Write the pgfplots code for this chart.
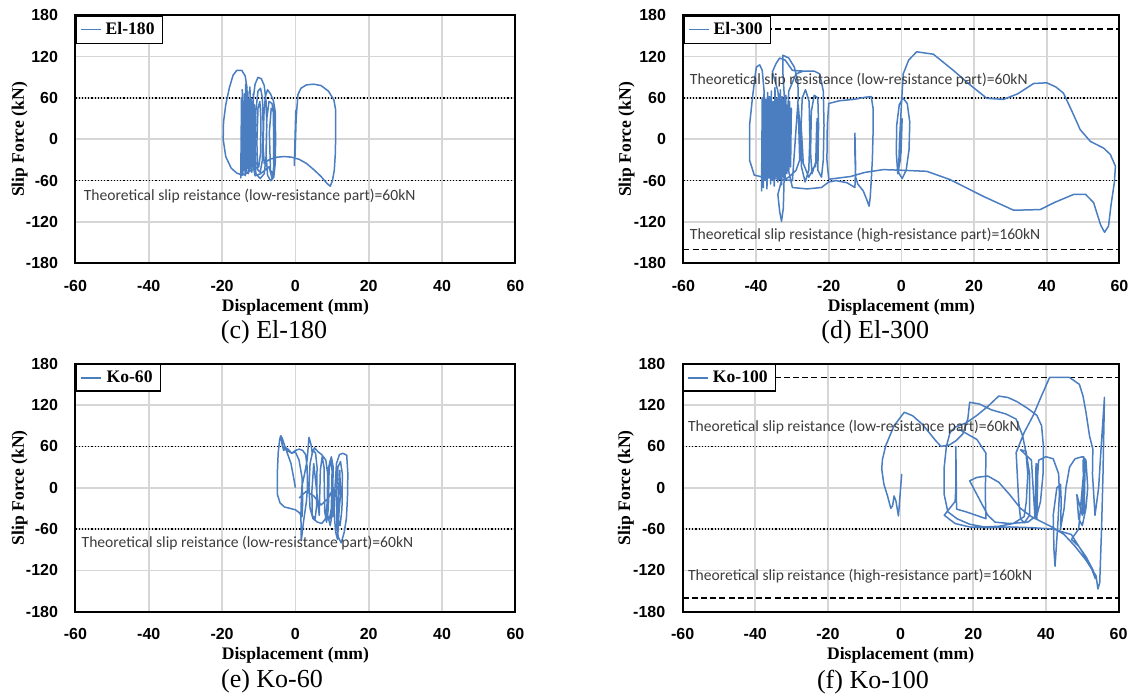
\documentclass[border=0pt]{standalone}
\usepackage{fontspec}
\setmainfont{Liberation Serif}
\newfontfamily\ticksf{Liberation Sans}
\newfontfamily\calib{Carlito}
\usepackage{pgfplots}
\pgfplotsset{compat=1.18}

\definecolor{curve}{RGB}{74,126,193}
\definecolor{gridc}{RGB}{214,214,214}
\definecolor{annc}{RGB}{60,60,60}

\newcommand{\annfont}{\calib\fontsize{7.8}{9}\selectfont}

\pgfplotsset{
  slip/.style={
    scale only axis, width=220pt, height=124pt,
    xmin=-60, xmax=60, ymin=-180, ymax=180,
    xtick={-60,-40,-20,0,20,40,60},
    ytick={-180,-120,-60,0,60,120,180},
    xticklabels={-60,-40,-20,0,20,40,60},
    yticklabels={-180,-120,-60,0,60,120,180},
    grid=major,
    major grid style={gridc, line width=0.8pt},
    major tick length=0pt,
    axis line style={line width=1pt},
    tick label style={font=\ticksf\fontsize{8}{9}\selectfont\bfseries},
    xticklabel style={anchor=center, yshift=-11.3pt},
    yticklabel style={anchor=east, inner sep=0pt, xshift=-8.5pt},
    xlabel={Displacement (mm)},
    ylabel={Slip Force (kN)},
    label style={font=\fontsize{8.8}{10}\selectfont\bfseries},
    xlabel style={at={(axis description cs:0.5,-0.176)}, anchor=center},
    ylabel style={at={(axis description cs:-0.127,0.5)}, anchor=center},
    legend style={at={(0,1)}, anchor=north west, draw=black, line width=0.8pt,
      fill=white, font=\fontsize{8.8}{10}\selectfont\bfseries,
      inner xsep=2pt, inner ysep=1pt},
    legend image code/.code={\draw[#1] (0pt,0pt) -- (10pt,0pt);},
  },
  low/.style={black, densely dotted, line width=0.6pt, forget plot},
  high/.style={black, dash pattern=on 3pt off 1.6pt, line width=0.8pt, forget plot},
  hyst/.style={curve, line width=0.75pt, line join=round},
}

\begin{document}
\begin{tikzpicture}
\useasboundingbox (0,0) rectangle (567pt,348.5pt);

% (c) El-180
\begin{axis}[slip, at={(37.7pt,216.85pt)}, anchor=south west]
\addplot[low] coordinates {(-60,60) (60,60)};
\addplot[low] coordinates {(-60,-60) (60,-60)};
\addplot[hyst] coordinates {
(0,0) (0.2,35) (-0.2,-20) (0.1,42) (-0.3,-38) (0.2,30) (-0.1,-25) (0.1,20)
(0.4,45) (0.7,65) (1.5,74) (3,79) (5,80) (7,78) (9,70) (10.5,57) (11,42)
(11,15) (10.9,-20) (10.6,-45) (10.1,-60) (9.5,-68) (8.6,-64) (7,-54) (5,-44)
(3,-35) (1,-29) (-1,-26) (-3,-25) (-5,-26) (-7,-29) (-8.5,-35) (-8.8,-10)
(-8.6,35) (-8.2,62) (-7.6,72) (-6.8,66) (-6,56) (-5.5,40) (-5.4,0) (-5.5,-35)
(-5.9,-55) (-6.8,-60) (-7.6,-52) (-8,-20) (-7.8,30) (-7.2,55) (-6.4,52)
(-5.8,35) (-5.7,-25) (-6.1,-50) (-6.8,-45) (-7.1,10) (-6.6,45) (-6,40)
(-5.9,-40) (-6.3,-58) (-7.2,-40) (-9.5,-50) (-11,-53) (-11.8,-30) (-12,10)
(-11.7,50) (-11,80) (-10.2,90) (-9.3,88) (-8.5,78) (-8,55) (-7.8,20) (-8,-25)
(-8.5,-50) (-9.6,-57) (-10.8,-50) (-11,-10) (-10.8,40) (-10.2,70) (-9.5,74)
(-9,60) (-8.8,20) (-9,-30) (-9.6,-48) (-10.3,-44) (-10.5,-5) (-10.2,45)
(-9.7,55) (-9.4,30) (-9.5,-20) (-10,-40) (-12,-45) (-13.5,-50) (-14.5,-52)
(-16,-49) (-17.5,-42) (-19,-25) (-19.7,0) (-19.6,25) (-19,50) (-18,75)
(-17,93) (-16,100) (-14.6,100) (-13.7,92) (-13.2,75) (-13.4,30) (-14.9,-56)
(-14.7,60) (-14.3,-50) (-14.5,72) (-14,-45) (-14.2,55) (-13.7,-53) (-13.9,66)
(-13.4,-48) (-13.6,80) (-13.1,-42) (-13.3,62) (-12.8,-50) (-13,70) (-12.5,-45)
(-12.7,58) (-12.2,-42) (-12.4,76) (-11.9,-48) (-12.1,60) (-11.6,-40) (-11.8,52)
(-11.3,-45) (-11.5,66) (-11,-38) (-11.2,50) (-14.6,-40) (-14.4,40) (-14.1,-30)
(-13.8,45) (-13.5,-35) (-13.2,40) (-12.9,-30) (-12.6,42) (-12.3,-33) (-12,38)
(-11.7,-30)
};
\addlegendentry{El-180}
\node[anchor=west, font=\annfont, text=annc, inner sep=0pt] at (axis cs:-57.8,-83)
  {Theoretical slip reistance (low-resistance part)=60kN};
\end{axis}

% (d) El-300
\begin{axis}[slip, width=218pt, ylabel style={at={(axis description cs:-0.130,0.5)}},
  at={(341.7pt,216.85pt)}, anchor=south west]
\addplot[low] coordinates {(-60,60) (60,60)};
\addplot[low] coordinates {(-60,-60) (60,-60)};
\addplot[high] coordinates {(-60,160) (60,160)};
\addplot[high] coordinates {(-60,-160) (60,-160)};
\addplot[hyst] coordinates {
(0,0) (0.2,30) (-0.1,-20) (0.15,25) (-0.1,-15) (0,10) (-0.3,-30) (-1,-50)
(-1.4,-20) (-1.3,20) (-0.6,50) (0.4,60) (1.6,52) (2.3,25) (2.1,-15) (1.3,-45)
(0.2,-57) (-0.8,-48) (-0.5,0) (0,50) (0.5,95) (2,115) (4.2,127) (8.8,123.5)
(14.3,100) (18.9,79) (23.5,59.5) (28.1,58) (32,66) (36.4,81) (40,82) (42.5,76)
(44.6,67) (47,40) (49.2,14) (52,-3) (55.7,-13) (57.5,-22) (58.9,-39) (58.6,-63)
(57.7,-95) (57,-126) (55.9,-135) (54.8,-124) (52.9,-92) (50.7,-80) (47.4,-80)
(42,-92) (38.2,-102) (30.9,-103) (22.6,-83) (13.4,-58.5) (7,-46.5) (0.5,-45)
(-5,-44) (-10,-48) (-14,-54) (-20,-58) (-20.5,-30) (-20.4,20) (-20,52)
(-17,56) (-13,58) (-10,61) (-8.3,62) (-7.8,45) (-7.8,10) (-8,-30) (-8.3,-60)
(-8.6,-85) (-8.9,-97) (-9.5,-88) (-10.5,-75) (-12,-65) (-12.6,-55) (-12.8,-20)
(-12.8,9) (-12.6,-40) (-12.8,-70) (-15,-63) (-18,-60) (-20,-62) (-22,-70)
(-26,-72) (-30,-70) (-31.3,-40) (-31.5,20) (-31,70) (-29,95) (-27,99)
(-24,99) (-22.5,95) (-21.5,70) (-21.3,20) (-21.5,-30) (-22,-55) (-23,-45)
(-22.8,20) (-23,60) (-24,64) (-24.8,40) (-25,-20) (-24.6,-50) (-23.4,-30)
(-23.2,30) (-23.6,-40) (-23.3,25) (-23.5,-35) (-25.5,-55) (-27,-35) (-27.6,20)
(-27.3,60) (-26.4,72) (-25.4,55) (-25.2,0) (-25.5,-45) (-26.5,-62) (-27.5,-40)
(-27.8,10) (-28.4,50) (-28,-30) (-29,-45) (-31,-55) (-33,-60) (-34,-80)
(-33.5,-105) (-33,-119) (-32.5,-100) (-32.3,-60) (-32.4,0) (-32.2,60)
(-32.6,95) (-32.6,122) (-31,118) (-29.5,105) (-28.5,85) (-28.4,60) (-30,-60)
(-38,-55) (-40.5,-52) (-41.8,-30) (-41.8,20) (-41,60) (-40.2,95) (-39.9,105)
(-39,108) (-38.3,100) (-37.8,70) (-38.5,-75) (-38.3,60) (-38,-70) (-37.8,65)
(-37.5,-60) (-37.3,58) (-37,-72) (-36.8,68) (-36.5,-55) (-36.3,62) (-36,-65)
(-35.8,70) (-35.5,-60) (-35.3,55) (-35,-68) (-34.8,75) (-34.5,-55) (-34.3,60)
(-34,-62) (-33.8,66) (-33.5,-58) (-33.3,72) (-33,-66) (-32.8,62) (-32.5,-55)
(-32.3,58) (-32,-60) (-31.8,64) (-31.5,-50) (-31.3,50) (-31,-45) (-30.8,55)
(-30.5,-40) (-30.3,45) (-38.2,40) (-37.9,-40) (-37.4,45) (-37.1,-35)
(-36.6,38) (-36.1,-42) (-35.6,40) (-35.1,-38) (-34.6,42) (-34.1,-40)
(-33.6,45) (-33.1,-36) (-32.6,40) (-32.1,-38) (-34,70) (-35.5,98) (-34.5,110)
(-33.5,118) (-32,115) (-30,100) (-27,99)
};
\addlegendentry{El-300}
\node[anchor=west, font=\annfont, text=annc, inner sep=0pt] at (axis cs:-58.3,86)
  {Theoretical slip resistance (low-resistance part)=60kN};
\node[anchor=west, font=\annfont, text=annc, inner sep=0pt] at (axis cs:-58.3,-139)
  {Theoretical slip resistance (high-resistance part)=160kN};
\end{axis}

% (e) Ko-60
\begin{axis}[slip, at={(37.7pt,42.65pt)}, anchor=south west,
  legend image code/.code={\draw[#1, line width=1.2pt] (0pt,0pt) -- (10pt,0pt);}]
\addplot[low] coordinates {(-60,60) (60,60)};
\addplot[low] coordinates {(-60,-60) (60,-60)};
\addplot[hyst] coordinates {
(0,0) (-0.5,15) (-1.2,35) (-2.2,50) (-3,62) (-3.6,72) (-4,75.5) (-4.3,70)
(-4.7,50) (-4.9,25) (-4.9,-10) (-4.2,-22) (-3,-28) (-1.5,-30) (0,-32) (1,-36)
(1.8,-42) (2,-20) (1.8,15) (1,40) (0,52) (-1,50) (-2,56) (-2.6,58) (-3.2,54)
(-3.6,62) (-4,75.5) (-3.5,60) (-2.5,55) (-1,50) (0,54) (1,56) (2,54) (2.8,48)
(3.2,30) (3.3,0) (3,-20) (2.2,-50) (1.6,-77) (1.5,-40) (1.7,0) (2.5,20)
(3.2,40) (3.7,73) (4.3,62) (4.6,50) (5.2,58) (6.2,52) (7.2,48) (8.3,40)
(8.8,20) (8.7,-20) (8.2,-45) (7.2,-52) (6,-50) (4.8,-45) (4,-30) (3.7,0)
(4,35) (4.8,55) (5.5,50) (5.9,30) (5.8,-25) (5.4,-45) (4.6,-40) (4.5,-5)
(5,35) (5.3,20) (6.5,-40) (6.8,25) (7.3,45) (7.8,30) (8,-35) (8.5,-50)
(9,-30) (9.2,30) (9.8,45) (10.3,30) (10.1,-35) (9.5,-55) (8.8,-40) (8.9,25)
(9.5,40) (10,25) (9.8,-30) (9.3,-45) (10.5,-40) (10.8,0) (11.2,35) (12,48)
(13,50) (14,47) (14.3,20) (14.2,-15) (13.9,-45) (13.3,-65) (12.5,-80)
(11.7,-72) (11.3,-55) (11.2,-10) (11.6,30) (12.3,38) (12.8,20) (12.7,-30)
(12.2,-55) (11.6,-45) (11.8,0) (12.1,25) (12.3,-10) (11.9,-35) (11.5,-75)
(11,-65) (10.6,-40) (10.4,0) (9,-15) (7,-25) (5,-12) (3,-5) (1,-15)
};
\addlegendentry{Ko-60}
\node[anchor=west, font=\annfont, text=annc, inner sep=0pt] at (axis cs:-58.4,-81)
  {Theoretical slip reistance (low-resistance part)=60kN};
\end{axis}

% (f) Ko-100
\begin{axis}[slip, width=218pt, ylabel style={at={(axis description cs:-0.130,0.5)}},
  at={(341.3pt,42.65pt)}, anchor=south west]
\addplot[low] coordinates {(-60,60) (60,60)};
\addplot[low] coordinates {(-60,-60) (60,-60)};
\addplot[high] coordinates {(-60,160) (60,160)};
\addplot[high] coordinates {(-60,-160) (60,-160)};
\addplot[hyst] coordinates {
(0.3,20) (-0.6,-41) (-1.3,-19) (-1.8,-12) (-2.2,-26) (-2.7,-30) (-3.6,-12)
(-4.6,5) (-5.2,27) (-5,41) (-4.1,61) (-1.8,90) (1,109.5) (3.3,104.5) (6,92)
(9.7,68) (11.1,60) (13.4,62) (15.2,68) (17.1,78) (18.5,100) (19,124)
(21.7,121.5) (25,113) (29,107) (31.8,99.6) (33.6,75) (34.5,51) (35,20)
(34.6,-20) (34,-42) (31,-52) (27,-56) (23,-57) (19,-53) (15.5,-45) (13,-35)
(12,-10) (12,30) (12.6,60) (13.6,80) (15,88) (18,94) (21,105) (24,118)
(27,133) (29.5,131) (32,125) (35,115) (37.5,105) (38.8,90) (39.3,60)
(39.2,20) (38.5,-20) (37.5,-40) (35,-50) (30,-52) (26,-50) (24,-40) (22,-20)
(20,0) (19,10) (21,15) (24,17) (27,8) (30,-10) (33,-30) (36,-42) (39,-50)
(42,-58) (45,-68) (48,-85) (51,-105) (53.8,-128) (54.3,-147) (54.8,-138)
(55.3,-60) (55.7,20) (56.1,131) (55.2,60) (54.5,0) (53.5,-40) (52.8,20)
(52.9,56) (52,75) (51,110) (50.2,133) (49.2,150) (46.5,160) (41,160)
(38.5,130) (36.5,105) (34,80) (31.8,51) (32.2,10) (32.5,-20) (33,-45)
(34,-51) (35.5,-40) (35.5,20) (34.5,53) (33,55) (36,40) (37,-45) (37.3,35)
(37.6,-40) (37.2,30) (37.5,-45) (37.8,35) (37.4,-38) (37.6,28) (37.1,-30)
(38,40) (40,45) (42,42) (43.5,20) (43.7,-10) (43.3,-50) (42.8,-90)
(42.5,-114) (42.2,-90) (42,-40) (43,0) (44,5) (44.2,-20) (44,-60) (45,-30)
(45.5,0) (46.5,30) (48,42) (50,45) (51,40) (51.5,0) (51,-30) (50,-55)
(49,-45) (48.5,-10) (50,-40) (50.4,45) (50.6,-35) (50.2,40) (50.5,-38)
(50.8,42) (50.3,-30) (50.7,35) (50.1,-25) (50.5,30) (49,-60) (47,-75)
(49,-85) (51,-100) (53,-120) (53.6,-132) (52,-110) (47,-68) (42,-60)
(36,-58) (30,-57) (24,-58) (19,-57) (15,-52) (12,-40) (15,-20) (15.2,0)
(15.2,60) (15.4,-31) (18,-35) (23.5,-45) (23.3,-10) (23.5,50) (21,70) (16,85)
};
\addlegendentry{Ko-100}
\node[anchor=west, font=\annfont, text=annc, inner sep=0pt] at (axis cs:-58.6,88)
  {Theoretical slip reistance (low-resistance part)=60kN};
\node[anchor=west, font=\annfont, text=annc, inner sep=0pt] at (axis cs:-58.6,-129)
  {Theoretical slip reistance (high-resistance part)=160kN};
\end{axis}

% captions
\node[font=\fontsize{13}{15}\selectfont] at (137pt,182.5pt) {(c) El-180};
\node[font=\fontsize{13}{15}\selectfont] at (437.6pt,182.5pt) {(d) El-300};
\node[font=\fontsize{13}{15}\selectfont] at (136pt,7.65pt) {(e) Ko-60};
\node[font=\fontsize{13}{15}\selectfont] at (436.5pt,7.65pt) {(f) Ko-100};
\end{tikzpicture}
\end{document}
